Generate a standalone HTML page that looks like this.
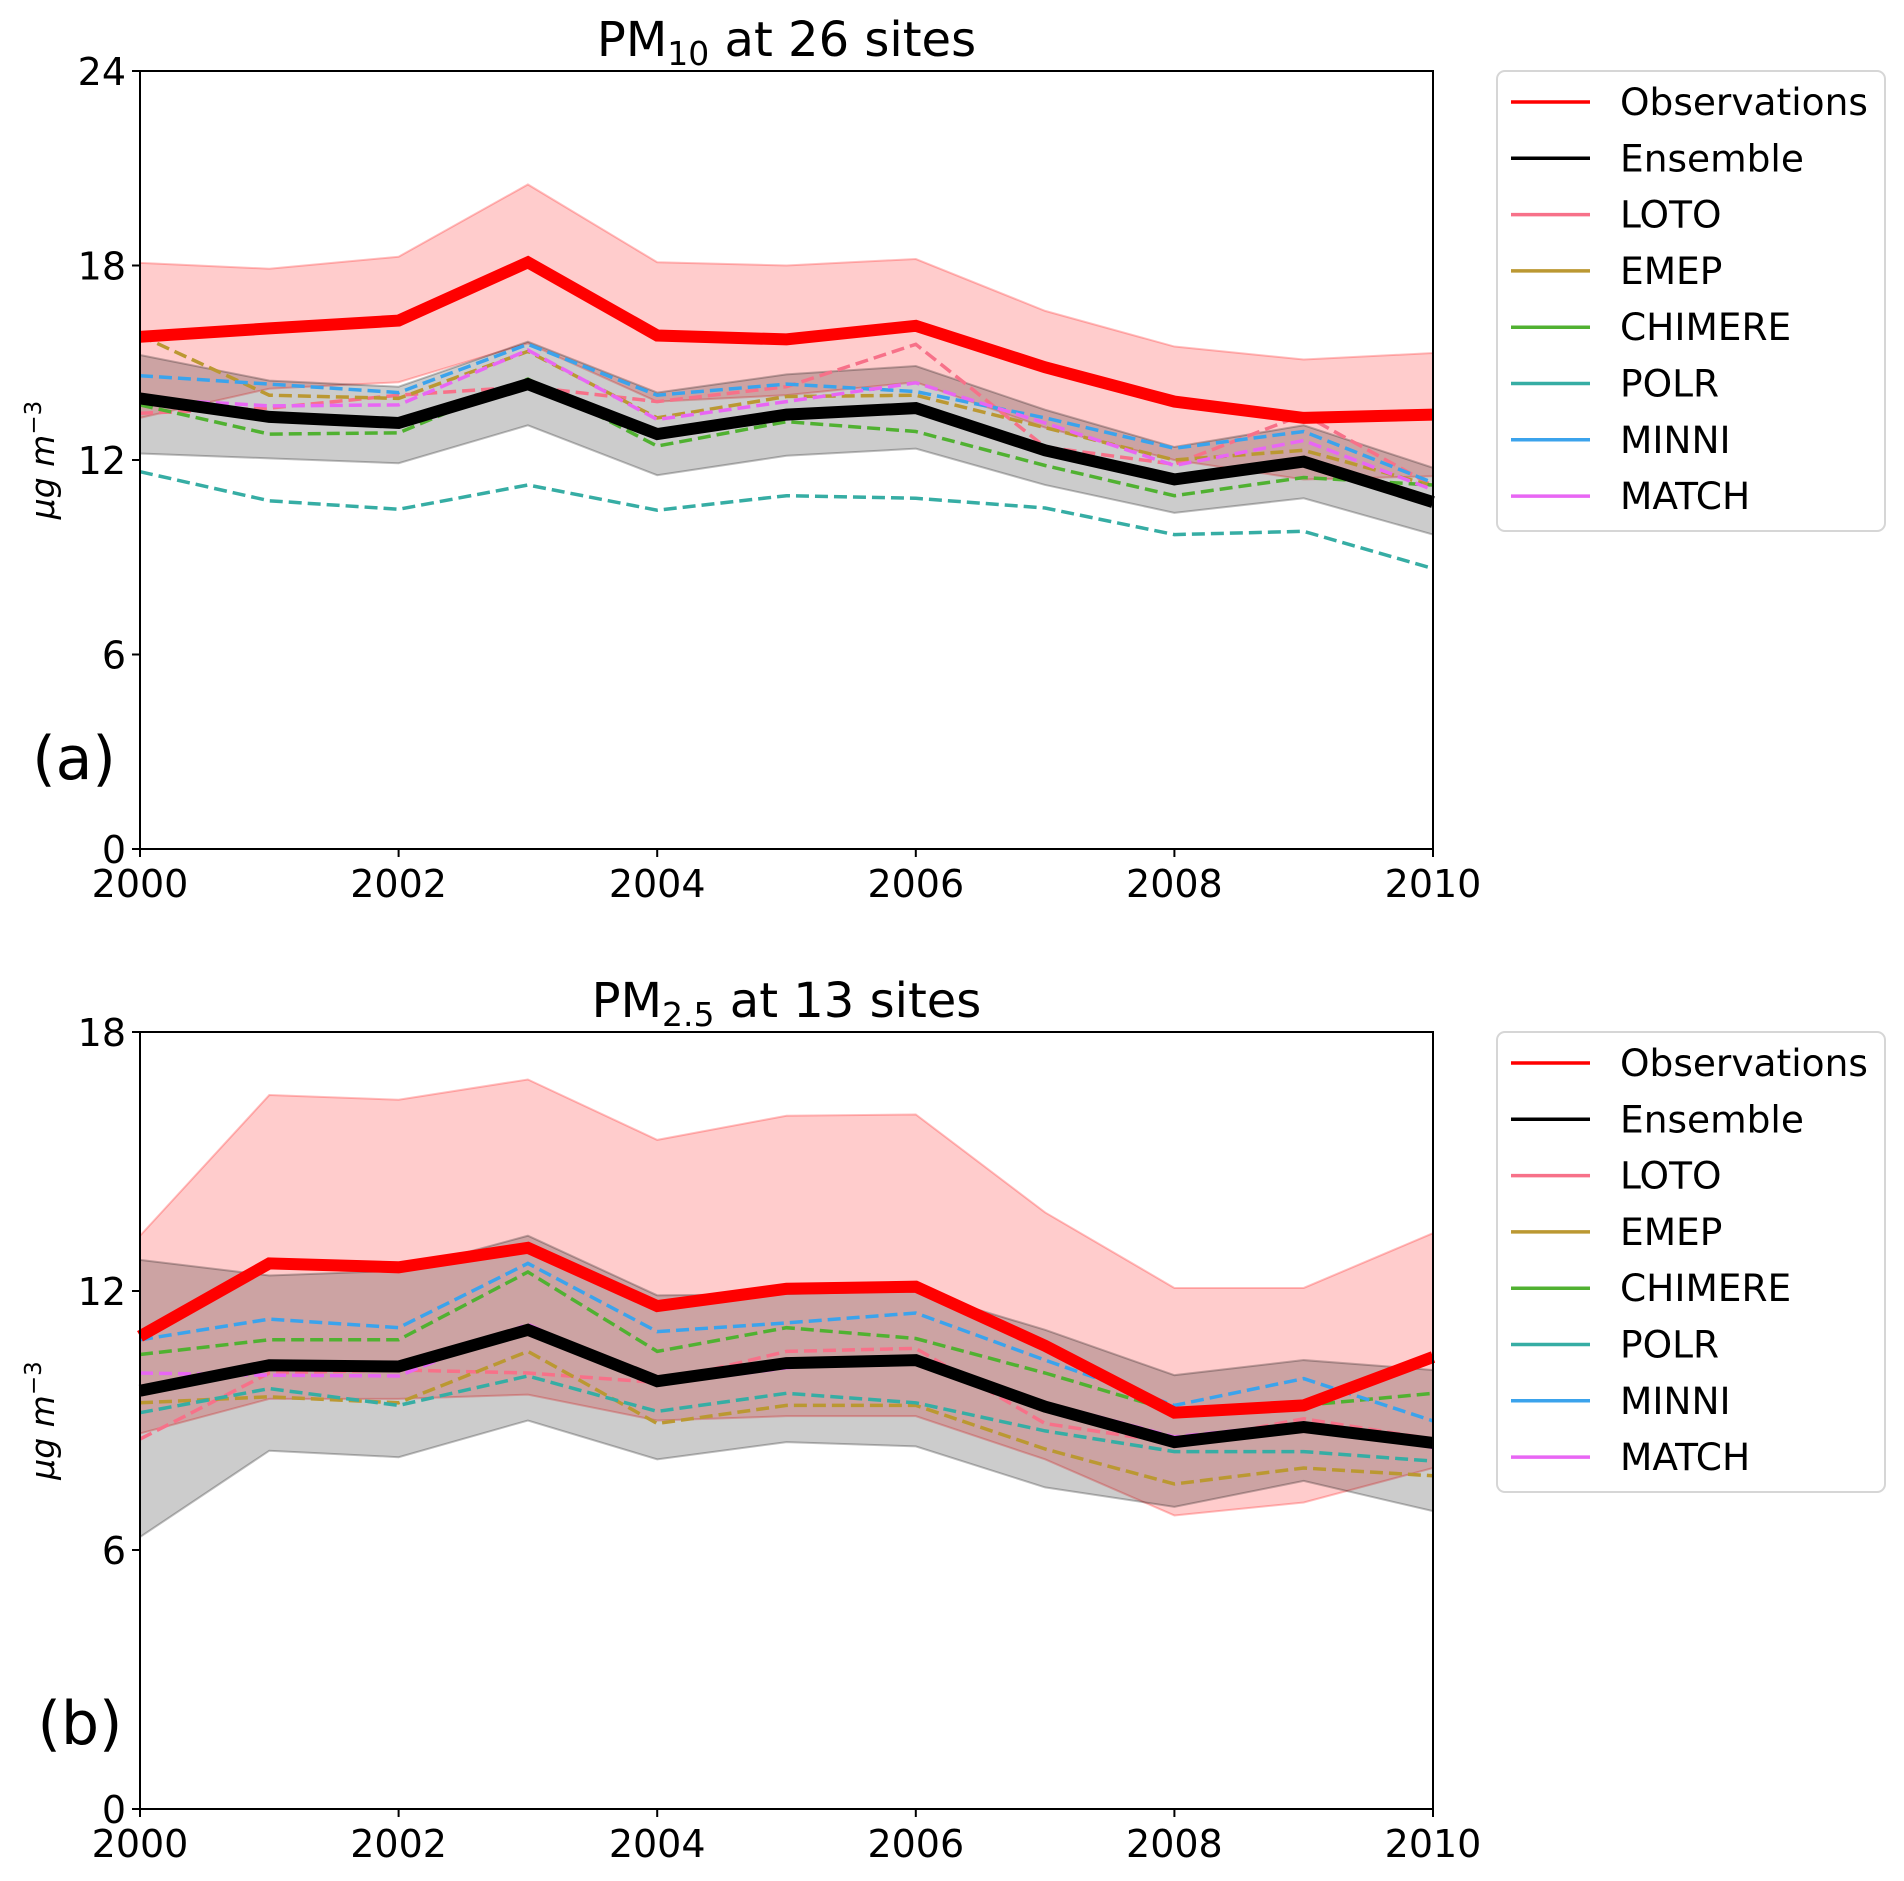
<!DOCTYPE html>
<html><head><meta charset="utf-8"><style>
html,body{margin:0;padding:0;background:#fff}
svg text{font-family:"DejaVu Sans","Liberation Sans",sans-serif;fill:#000}
</style></head><body>
<svg id="chart" width="1904" height="1876" viewBox="0 0 1904 1876" xmlns="http://www.w3.org/2000/svg"></svg>
<script>
const years = [2000,2001,2002,2003,2004,2005,2006,2007,2008,2009,2010];
const seriesNames = ["Observations","Ensemble","LOTO","EMEP","CHIMERE","POLR","MINNI","MATCH"];
const seriesColors = ["#ff0000","#000000","#f77189","#bb9832","#50b131","#36ada4","#3ba3ec","#e866f4"];
// PM10 panel
const pm10Obs = [15.8,16.06,16.3,18.1,15.84,15.72,16.14,14.86,13.8,13.3,13.4];
const pm10ObsHi = [18.08,17.9,18.27,20.5,18.1,18.0,18.2,16.6,15.5,15.1,15.3];
const pm10ObsLo = [13.3,14.2,14.4,15.6,13.8,14.0,14.4,13.0,12.0,11.4,11.5];
const pm10Ens = [13.9,13.33,13.14,14.34,12.8,13.4,13.6,12.3,11.4,11.95,10.7];
const pm10EnsHi = [15.24,14.45,14.26,15.65,14.08,14.64,14.9,13.55,12.4,13.07,11.76];
const pm10EnsLo = [12.2,12.05,11.9,13.07,11.53,12.13,12.35,11.23,10.37,10.82,9.7];
const pm10Loto = [13.44,13.6,14.0,14.26,13.8,14.26,15.57,12.4,11.87,13.4,11.2];
const pm10Emep = [15.84,14.0,13.9,15.35,13.3,13.96,14.0,13.0,12.0,12.3,11.2];
const pm10Chimere = [13.7,12.8,12.84,14.5,12.43,13.18,12.88,11.83,10.9,11.46,11.23];
const pm10Polr = [11.64,10.74,10.48,11.23,10.45,10.9,10.82,10.52,9.7,9.8,8.65];
const pm10Minni = [14.6,14.34,14.08,15.57,14.0,14.34,14.11,13.3,12.36,12.88,11.3];
const pm10Match = [13.9,13.67,13.7,15.39,13.25,13.8,14.38,13.14,11.83,12.6,11.08];
// PM2.5 panel
const pm25Obs = [10.95,12.64,12.55,13.0,11.65,12.05,12.1,10.73,9.18,9.35,10.47];
const pm25ObsHi = [13.28,16.54,16.43,16.9,15.5,16.06,16.09,13.82,12.07,12.07,13.34];
const pm25ObsLo = [8.7,9.5,9.5,9.6,9.0,9.1,9.1,8.1,6.8,7.1,7.9];
const pm25Ens = [9.69,10.28,10.25,11.1,9.91,10.33,10.4,9.32,8.5,8.85,8.48];
const pm25EnsHi = [12.72,12.36,12.47,13.28,11.9,11.93,12.0,11.1,10.05,10.4,10.17];
const pm25EnsLo = [6.3,8.3,8.15,9.0,8.1,8.5,8.4,7.45,7.0,7.6,6.9];
const pm25Loto = [8.57,10.1,10.17,10.1,9.88,10.6,10.67,8.93,8.48,9.04,8.57];
const pm25Emep = [9.41,9.55,9.41,10.6,8.93,9.35,9.35,8.34,7.53,7.9,7.72];
const pm25Chimere = [10.53,10.87,10.87,12.44,10.6,11.15,10.9,10.1,9.21,9.35,9.63];
const pm25Polr = [9.18,9.74,9.35,10.03,9.21,9.63,9.41,8.76,8.28,8.28,8.06];
const pm25Minni = [10.87,11.35,11.15,12.64,11.06,11.26,11.49,10.4,9.35,9.97,8.99];
const pm25Match = [10.1,10.05,10.03,11.23,9.83,10.22,10.47,9.41,8.62,8.93,8.37];
const pm10Ticks = [0,6,12,18,24];
const pm25Ticks = [0,6,12,18];
const xTicks = [2000,2002,2004,2006,2008,2010];

const NS="http://www.w3.org/2000/svg";
const svg=document.getElementById('chart');
function el(tag,attrs,parent){const e=document.createElementNS(NS,tag);for(const k in attrs)e.setAttribute(k,attrs[k]);(parent||svg).appendChild(e);return e;}
const X0=140,X1=1433;
function xs(y){return X0+(y-2000)/10*(X1-X0);}

function panel(cfg){
  const g=el('g',{});
  
  
  const ys=v=>cfg.bot-(v/cfg.max)*(cfg.bot-cfg.top);
  const ptsStr=arr=>arr.map((v,i)=>xs(years[i]).toFixed(1)+','+ys(v).toFixed(1)).join(' ');
  const band=(hi,lo,fill,stroke,nm)=>{
    const pts=hi.map((v,i)=>xs(years[i])+','+ys(v)).concat(lo.map((v,i)=>[i,v]).reverse().map(([i,v])=>xs(years[i])+','+ys(v)));
    const p=el('polygon',{points:pts.join(' '),fill:fill,stroke:stroke,'stroke-width':2},g);
    
    
  };
  band(cfg.obsHi,cfg.obsLo,'rgba(255,0,0,0.2)','rgba(255,0,0,0.25)','obs-range-band');
  band(cfg.ensHi,cfg.ensLo,'rgba(0,0,0,0.2)','rgba(0,0,0,0.25)','ensemble-range-band');
  const models=[cfg.loto,cfg.emep,cfg.chimere,cfg.polr,cfg.minni,cfg.match];
  models.forEach((m,k)=>{
    const l=el('polyline',{points:ptsStr(m),fill:'none',stroke:seriesColors[k+2],'stroke-width':3.5,'stroke-dasharray':'13,6'},g);
    
    
  });
  const le=el('polyline',{points:ptsStr(cfg.ens),fill:'none',stroke:'#000','stroke-width':12},g);
  
  
  const lo=el('polyline',{points:ptsStr(cfg.obs),fill:'none',stroke:'#ff0000','stroke-width':12},g);
  
  
  const fr=el('rect',{x:X0,y:cfg.top,width:X1-X0,height:cfg.bot-cfg.top,fill:'none',stroke:'#000','stroke-width':2},g);
  
  
  cfg.yticks.forEach(t=>{
    const y=ys(t);
    el('line',{x1:X0-8,x2:X0,y1:y,y2:y,stroke:'#000','stroke-width':2},g);
    const tx=el('text',{x:X0-14,y:y+14,'text-anchor':'end','font-size':38},g);
    tx.textContent=t;
    
    
  });
  xTicks.forEach(t=>{
    const x=xs(t);
    el('line',{x1:x,x2:x,y1:cfg.bot,y2:cfg.bot+8,stroke:'#000','stroke-width':2},g);
    const tx=el('text',{x:x,y:cfg.bot+48,'text-anchor':'middle','font-size':38},g);
    tx.textContent=t;
    
    
  });
  const tt=el('text',{x:(X0+X1)/2,y:cfg.top-15,'text-anchor':'middle','font-size':48},g);
  tt.innerHTML=cfg.title;
  
  
  const yl=el('text',{x:0,y:0,'text-anchor':'middle','font-size':33,'font-style':'italic',transform:`translate(54,${(cfg.top+cfg.bot)/2}) rotate(-90)`},g);
  yl.innerHTML='μg m<tspan dy="-13" font-size="23" font-style="normal">−3</tspan>';
  
  
  const pl=el('text',{x:cfg.lx,y:cfg.ly,'text-anchor':'middle','font-size':60},g);
  pl.textContent=cfg.label;
  
  
  const lg=el('g',{},g);
  
  
  el('rect',{x:1497,y:cfg.top,width:388,height:460,rx:8,fill:'#fff',stroke:'#d6d6d6','stroke-width':2},lg);
  seriesNames.forEach((n,k)=>{
    const y=cfg.top+31+k*56.3;
    const ln=el('line',{x1:1511,x2:1590,y1:y,y2:y,stroke:seriesColors[k],'stroke-width':3.5},lg);
    
    
    const tx=el('text',{x:1620,y:y+13,'font-size':37.5},lg);
    tx.textContent=n;
    
    
  });
}
panel({name:'pm10-panel',top:71,bot:849,max:24,yticks:pm10Ticks,title:'PM<tspan dy="9" font-size="33">10</tspan><tspan dy="-9"> at 26 sites</tspan>',label:'(a)',lx:74,ly:779,
  obs:pm10Obs,obsHi:pm10ObsHi,obsLo:pm10ObsLo,ens:pm10Ens,ensHi:pm10EnsHi,ensLo:pm10EnsLo,
  loto:pm10Loto,emep:pm10Emep,chimere:pm10Chimere,polr:pm10Polr,minni:pm10Minni,match:pm10Match});
panel({name:'pm25-panel',top:1032,bot:1809,max:18,yticks:pm25Ticks,title:'PM<tspan dy="9" font-size="33">2.5</tspan><tspan dy="-9"> at 13 sites</tspan>',label:'(b)',lx:80,ly:1744,
  obs:pm25Obs,obsHi:pm25ObsHi,obsLo:pm25ObsLo,ens:pm25Ens,ensHi:pm25EnsHi,ensLo:pm25EnsLo,
  loto:pm25Loto,emep:pm25Emep,chimere:pm25Chimere,polr:pm25Polr,minni:pm25Minni,match:pm25Match});
</script>
</body></html>
